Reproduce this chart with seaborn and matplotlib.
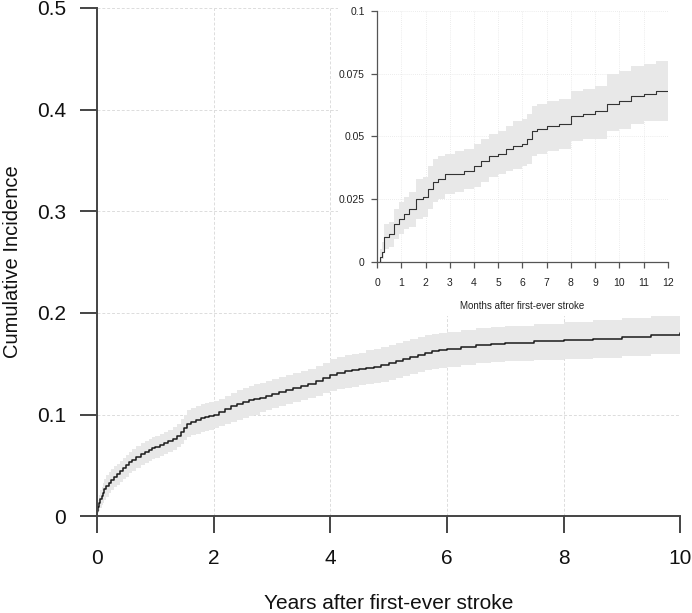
import numpy as np
import pandas as pd
import matplotlib
matplotlib.use("Agg")
import matplotlib.pyplot as plt
from matplotlib.patches import Rectangle
import seaborn as sns

# ---- main plot data (years) ----
years = [0, 0.01, 0.02, 0.04, 0.06, 0.08, 0.1, 0.13, 0.16, 0.2, 0.25, 0.3, 0.35, 0.4, 0.45,
         0.5, 0.55, 0.6, 0.67, 0.75, 0.82, 0.9, 0.95, 1.0, 1.08, 1.15, 1.22, 1.3, 1.37, 1.45,
         1.5, 1.55, 1.62, 1.7, 1.78, 1.85, 1.92, 2.0, 2.1, 2.2, 2.3, 2.4, 2.5, 2.6, 2.7, 2.8,
         2.9, 3.0, 3.12, 3.25, 3.37, 3.5, 3.62, 3.75, 3.87, 4.0, 4.12, 4.25, 4.37, 4.5, 4.62,
         4.75, 4.87, 5.0, 5.12, 5.25, 5.37, 5.5, 5.62, 5.75, 5.87, 6.0, 6.25, 6.5, 6.75, 7.0,
         7.5, 8.0, 8.5, 9.0, 9.5, 10.0]
cif_years = [0, 0.005, 0.009, 0.013, 0.017, 0.020, 0.023, 0.027, 0.030, 0.033, 0.036, 0.039,
             0.041, 0.044, 0.047, 0.050, 0.053, 0.055, 0.058, 0.061, 0.063, 0.065, 0.067, 0.068,
             0.070, 0.072, 0.074, 0.076, 0.079, 0.083, 0.087, 0.091, 0.093, 0.095, 0.097, 0.098,
             0.099, 0.100, 0.102, 0.105, 0.108, 0.110, 0.112, 0.114, 0.115, 0.116, 0.118, 0.120,
             0.122, 0.124, 0.126, 0.128, 0.130, 0.133, 0.136, 0.139, 0.141, 0.143, 0.144, 0.145,
             0.146, 0.147, 0.149, 0.151, 0.153, 0.155, 0.157, 0.159, 0.161, 0.162, 0.163, 0.164,
             0.166, 0.168, 0.169, 0.170, 0.172, 0.173, 0.174, 0.176, 0.178, 0.180]
lower_years = [0, 0.001, 0.003, 0.005, 0.008, 0.011, 0.013, 0.016, 0.019, 0.023, 0.026, 0.029,
               0.031, 0.034, 0.037, 0.039, 0.042, 0.044, 0.047, 0.050, 0.052, 0.054, 0.056, 0.057,
               0.059, 0.061, 0.063, 0.065, 0.068, 0.071, 0.075, 0.078, 0.080, 0.081, 0.083, 0.084,
               0.085, 0.087, 0.089, 0.091, 0.093, 0.095, 0.097, 0.099, 0.100, 0.102, 0.104, 0.106,
               0.108, 0.110, 0.112, 0.114, 0.116, 0.118, 0.121, 0.123, 0.125, 0.126, 0.127, 0.129,
               0.130, 0.131, 0.132, 0.134, 0.136, 0.138, 0.140, 0.142, 0.144, 0.145, 0.146, 0.147,
               0.149, 0.151, 0.152, 0.153, 0.154, 0.155, 0.156, 0.158, 0.160, 0.163]
upper_years = [0, 0.010, 0.016, 0.021, 0.026, 0.029, 0.033, 0.037, 0.040, 0.043, 0.046, 0.049,
               0.051, 0.054, 0.057, 0.060, 0.063, 0.066, 0.069, 0.072, 0.074, 0.076, 0.078, 0.079,
               0.081, 0.083, 0.085, 0.088, 0.091, 0.096, 0.100, 0.104, 0.106, 0.108, 0.110, 0.111,
               0.112, 0.113, 0.115, 0.118, 0.121, 0.124, 0.126, 0.128, 0.130, 0.131, 0.133, 0.135,
               0.137, 0.139, 0.141, 0.143, 0.145, 0.148, 0.151, 0.155, 0.157, 0.159, 0.160, 0.161,
               0.163, 0.164, 0.166, 0.168, 0.170, 0.172, 0.174, 0.176, 0.178, 0.179, 0.180, 0.181,
               0.183, 0.185, 0.186, 0.187, 0.189, 0.191, 0.193, 0.195, 0.197, 0.198]
main_xticks = [0, 2, 4, 6, 8, 10]
main_yticks = [0, 0.1, 0.2, 0.3, 0.4, 0.5]
main_yticklabels = ["0", "0.1", "0.2", "0.3", "0.4", "0.5"]

# ---- inset data (months) ----
months = [0, 0.1, 0.2, 0.3, 0.5, 0.7, 0.9, 1.1, 1.3, 1.6, 1.9, 2.1, 2.3, 2.5, 2.8, 3.2, 3.6,
          4.0, 4.3, 4.6, 5.0, 5.3, 5.6, 6.0, 6.2, 6.4, 6.6, 7.0, 7.5, 8.0, 8.5, 9.0, 9.5, 10.0,
          10.5, 11.0, 11.5, 12.0]
cif_months = [0, 0.002, 0.004, 0.010, 0.011, 0.015, 0.017, 0.019, 0.021, 0.025, 0.026, 0.029,
              0.032, 0.033, 0.035, 0.035, 0.036, 0.038, 0.040, 0.042, 0.043, 0.045, 0.046, 0.047,
              0.049, 0.052, 0.053, 0.054, 0.055, 0.058, 0.059, 0.060, 0.063, 0.064, 0.066, 0.067,
              0.068, 0.068]
lower_months = [0, 0.000, 0.001, 0.005, 0.006, 0.009, 0.011, 0.013, 0.014, 0.017, 0.018, 0.021,
                0.024, 0.025, 0.027, 0.028, 0.029, 0.030, 0.032, 0.034, 0.035, 0.036, 0.037, 0.038,
                0.039, 0.042, 0.043, 0.044, 0.045, 0.048, 0.049, 0.049, 0.052, 0.053, 0.055, 0.056,
                0.056, 0.057]
upper_months = [0, 0.005, 0.008, 0.015, 0.016, 0.021, 0.024, 0.026, 0.028, 0.033, 0.034, 0.038,
                0.041, 0.042, 0.043, 0.044, 0.045, 0.047, 0.049, 0.051, 0.052, 0.054, 0.056, 0.057,
                0.059, 0.062, 0.063, 0.064, 0.065, 0.068, 0.069, 0.070, 0.075, 0.076, 0.078, 0.079,
                0.080, 0.081]
inset_xticks = list(range(0, 13))
inset_yticks = [0, 0.025, 0.05, 0.075, 0.1]
inset_yticklabels = ["0", "0.025", "0.05", "0.075", "0.1"]

sns.set_style("white")
plt.rcParams["font.family"] = ["Liberation Sans", "DejaVu Sans"]

fig = plt.figure(figsize=(6.92, 6.13), dpi=100)
ax = fig.add_axes([0.140, 0.158, 0.843, 0.829])

spine_col = "#444444"
band_col = "#e8e8e8"

df_main = pd.DataFrame({"t": years, "cif": cif_years})
ax.fill_between(years, lower_years, upper_years, step="post", color=band_col, lw=0, zorder=1)
sns.lineplot(data=df_main, x="t", y="cif", ax=ax, drawstyle="steps-post", color="#1a1a1a",
             lw=1.1, errorbar=None, estimator=None, sort=False, zorder=2)
ax.set_xlim(0, 10)
ax.set_ylim(0, 0.5)
ax.set_xticks(main_xticks)
ax.set_xticklabels([str(v) for v in main_xticks])
ax.set_yticks(main_yticks)
ax.set_yticklabels(main_yticklabels)
ax.grid(True, color="#dcdcdc", linestyle=(0, (3, 2)), lw=0.7)
ax.set_axisbelow(True)
for s in ["top", "right"]:
    ax.spines[s].set_visible(False)
for s in ["left", "bottom"]:
    ax.spines[s].set_color(spine_col)
    ax.spines[s].set_linewidth(1.4)
ax.tick_params(axis="both", direction="out", length=12, width=1.4, color=spine_col,
               labelsize=15, pad=10, labelcolor="#111111", bottom=True, left=True)
ax.tick_params(axis="x", pad=12)
ax.set_xlabel("Years after first-ever stroke", fontsize=15, color="#111111", va="center")
ax.xaxis.set_label_coords(0.5, (516 - 603) / 508)
ax.set_ylabel("Cumulative Incidence", fontsize=14.5, color="#111111", va="center")
ax.yaxis.set_label_coords((13 - 97) / 583, 0.5)

# white background behind inset (covers main grid)
ax.add_patch(Rectangle((338 / 692, 1 - 316 / 613), 1 - 338 / 692, 316 / 613,
                       transform=fig.transFigure, facecolor="white", edgecolor="none",
                       zorder=0.8, clip_on=False))

# ---- inset ----
axi = fig.add_axes([0.545, 0.573, 0.420, 0.409])
axi.set_facecolor("white")
df_in = pd.DataFrame({"m": months, "cif": cif_months})
axi.fill_between(months, lower_months, upper_months, step="post", color=band_col, lw=0, zorder=1)
sns.lineplot(data=df_in, x="m", y="cif", ax=axi, drawstyle="steps-post", color="#333333",
             lw=0.8, errorbar=None, estimator=None, sort=False, zorder=2)
axi.set_xlim(0, 12)
axi.set_ylim(0, 0.1)
axi.set_xticks(inset_xticks)
axi.set_xticklabels([str(v) for v in inset_xticks])
axi.set_yticks(inset_yticks)
axi.set_yticklabels(inset_yticklabels)
axi.grid(True, color="#e6e6e6", linestyle=(0, (1, 1.5)), lw=0.6)
axi.set_axisbelow(True)
for s in ["top", "right"]:
    axi.spines[s].set_visible(False)
for s in ["left", "bottom"]:
    axi.spines[s].set_color("#555555")
    axi.spines[s].set_linewidth(0.9)
axi.tick_params(axis="both", direction="out", length=4, width=0.9, color="#555555",
                labelsize=7.5, pad=5, labelcolor="#222222", bottom=True, left=True)
axi.tick_params(axis="x", pad=8)
axi.set_xlabel("Months after first-ever stroke", fontsize=7, color="#222222", va="center")
axi.xaxis.set_label_coords(0.5, (262 - 306) / 251)
axi.set_ylabel("")

fig.savefig("out.png", dpi=100)
